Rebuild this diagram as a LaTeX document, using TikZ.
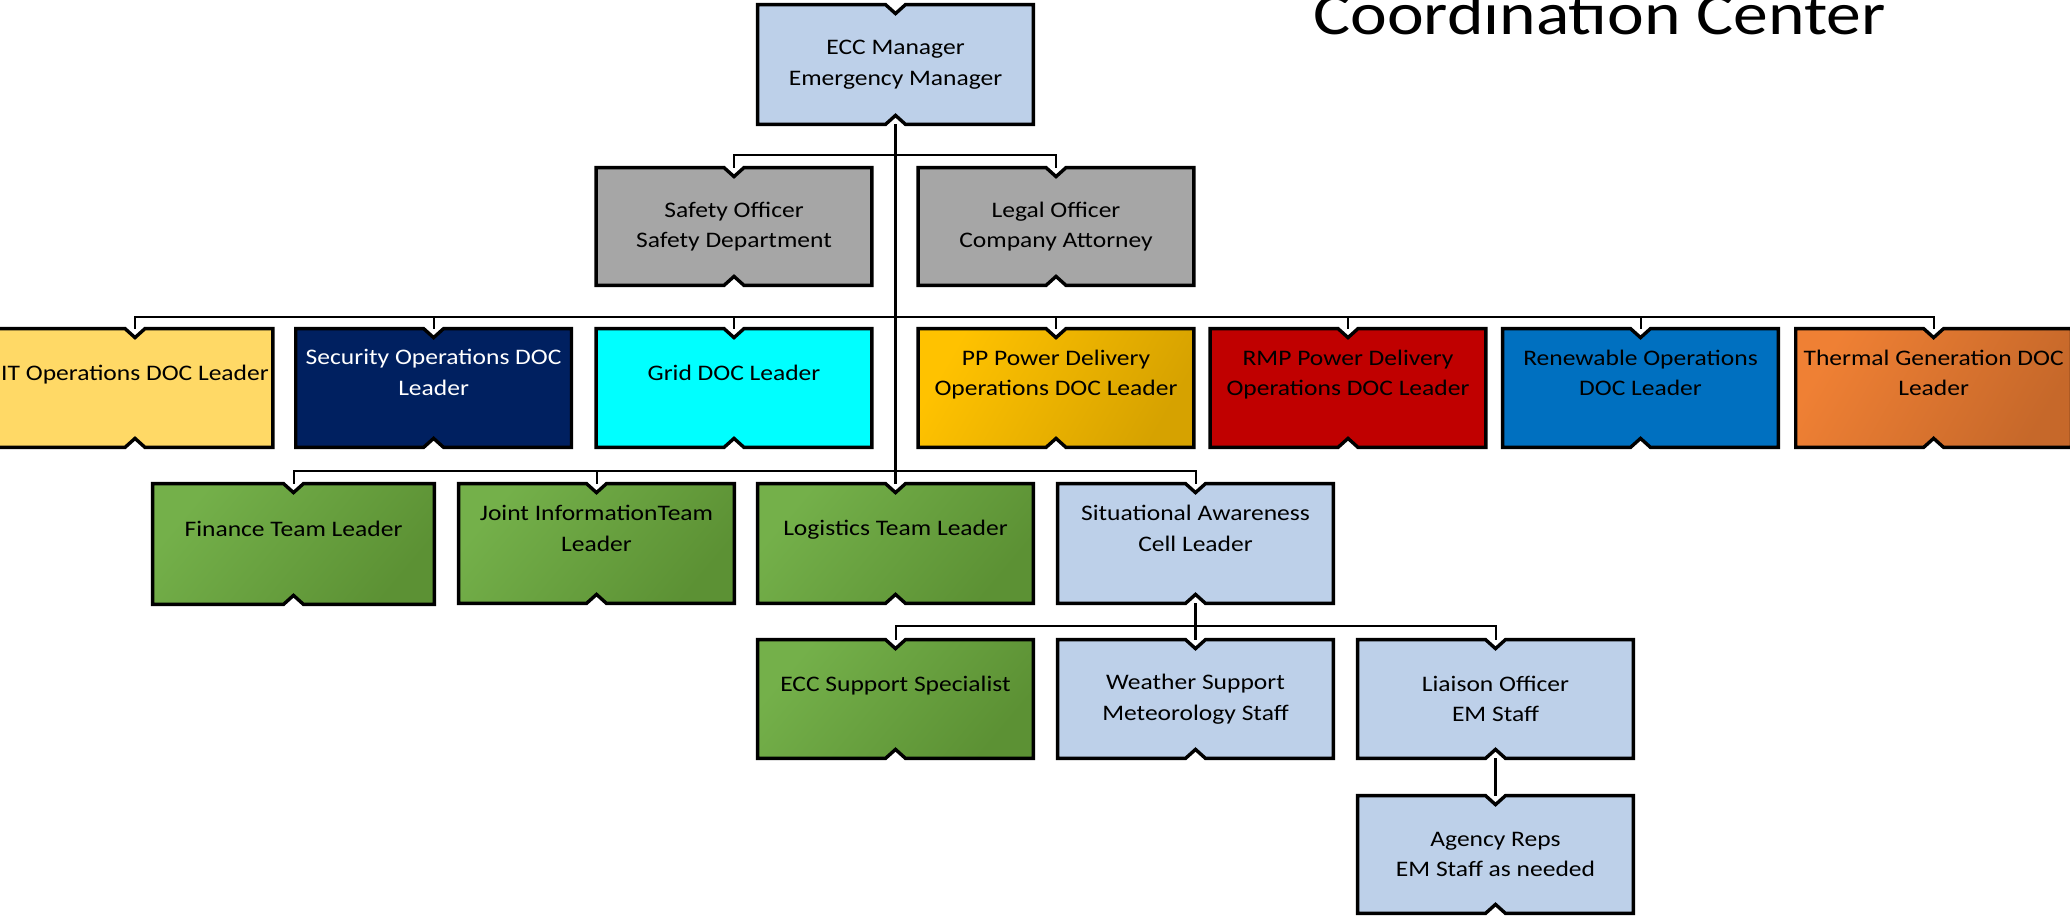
\documentclass[tikz,border=0pt]{standalone}
\usepackage{fontspec}
\usetikzlibrary{calc,backgrounds}
\newfontfamily\boxfont{Carlito}[FakeStretch=1.15]
\newfontfamily\titlefont{Carlito}[FakeStretch=1.16]
\definecolor{lblue}{RGB}{189,208,233}
\definecolor{greyb}{RGB}{166,166,166}
\definecolor{itY}{RGB}{255,217,102}
\definecolor{secN}{RGB}{0,32,96}
\definecolor{gridC}{RGB}{0,255,255}
\definecolor{ppL}{RGB}{255,194,0}
\definecolor{ppD}{RGB}{214,162,0}
\definecolor{rmpR}{RGB}{192,0,0}
\definecolor{renB}{RGB}{0,112,192}
\definecolor{thL}{RGB}{239,128,52}
\definecolor{thD}{RGB}{198,104,42}
\definecolor{grL}{RGB}{116,176,74}
\definecolor{grD}{RGB}{92,145,52}
\tikzset{
  box/.style={rectangle, inner sep=0pt, minimum width=137.5pt, minimum height=59pt,
    align=center, font=\boxfont\fontsize{11.1}{15.35}\selectfont, text=black},
  outl/.style={line width=1.7pt, draw=black, line join=miter},
  conn/.style={line width=1pt, draw=black},
  trunk/.style={line width=1.7pt, draw=black},
  fLB/.style={fill=lblue},
  fGrey/.style={fill=greyb},
  fIT/.style={fill=itY},
  fSec/.style={fill=secN},
  fGrid/.style={fill=gridC},
  fPP/.style={top color=ppL, bottom color=ppD, shading angle=60},
  fRMP/.style={fill=rmpR},
  fRen/.style={fill=renB},
  fTh/.style={top color=thL, bottom color=thD, shading angle=60},
  fGreen/.style={top color=grL, bottom color=grD, shading angle=50},
  titletext/.style={font=\titlefont\fontsize{30}{36}\selectfont, anchor=base west, inner sep=0pt},
}
\begin{document}
\begin{tikzpicture}[x=0.5pt, y=-0.5pt]
\useasboundingbox (0,0) rectangle (2070,915);

% title
\node[titletext] (title) at (1313,35) {Coordination Center};

% level 1
\node[box, minimum height=59.5pt] (ecc) at (895.5,64.5) {ECC Manager\\Emergency Manager};
% officers
\node[box, minimum height=58.5pt] (safety) at (734,226.5) {Safety Officer\\Safety Department};
\node[box, minimum height=58.5pt] (legal) at (1056,226.5) {Legal Officer\\Company Attorney};
% DOC row
\node[box] (it) at (135,388) {IT Operations DOC Leader\\\mbox{}};
\node[box, text=white] (sec) at (433.6,388) {Security Operations DOC\\Leader\\\mbox{}};
\node[box] (grid) at (734,388) {Grid DOC Leader\\\mbox{}};
\node[box] (pp) at (1056,388) {PP Power Delivery\\Operations DOC Leader\\\mbox{}};
\node[box] (rmp) at (1348,388) {RMP Power Delivery\\Operations DOC Leader\\\mbox{}};
\node[box] (ren) at (1640.5,388) {Renewable Operations\\DOC Leader\\\mbox{}};
\node[box] (therm) at (1933.6,388) {Thermal Generation DOC\\Leader\\\mbox{}};
% team row
\node[box, minimum width=140.5pt, minimum height=60pt] (fin) at (293.5,544) {Finance Team Leader\\\mbox{}};
\node[box, minimum height=59.5pt] (joint) at (596.5,543.5) {Joint InformationTeam\\Leader\\\mbox{}};
\node[box, minimum height=59.5pt] (logi) at (895.5,543.5) {Logistics Team Leader\\\mbox{}};
\node[box, minimum height=59.5pt] (sit) at (1195.5,543.5) {Situational Awareness\\Cell Leader\\\mbox{}};
% row 5
\node[box] (sup) at (895.5,699) {ECC Support Specialist\\\mbox{}};
\node[box] (wea) at (1195.5,699) {Weather Support\\Meteorology Staff};
\node[box] (lia) at (1495.5,699) {Liaison Officer\\EM Staff};
% row 6
\node[box, minimum height=58.5pt] (agency) at (1495.5,854.5) {Agency Reps\\EM Staff as needed};

% box outlines with notches
\begin{pgfonlayer}{background}
\fill[white] (0,0) rectangle (2070,915);
\foreach \n/\s in {ecc/fLB, safety/fGrey, legal/fGrey, it/fIT, sec/fSec, grid/fGrid,
    pp/fPP, rmp/fRMP, ren/fRen, therm/fTh, fin/fGreen, joint/fGreen, logi/fGreen,
    sit/fLB, sup/fGreen, wea/fLB, lia/fLB, agency/fLB}
{
  \path[outl,\s] (\n.north west) -- ($(\n.north)+(-10,0)$) -- ($(\n.north)+(0,9)$)
    -- ($(\n.north)+(10,0)$) -- (\n.north east) -- (\n.south east)
    -- ($(\n.south)+(10,0)$) -- ($(\n.south)+(0,-9)$) -- ($(\n.south)+(-10,0)$)
    -- (\n.south west) -- cycle;
}
\end{pgfonlayer}

% connectors
\draw[conn] (safety.north) -- ++(0,-13) -| (legal.north);
\draw[conn] (it.north) -- ++(0,-11.5) -| (therm.north);
\foreach \n in {sec,grid,pp,rmp,ren} \draw[conn] (\n.north) -- ++(0,-11.5);
\draw[conn] (fin.north) -- ++(0,-12.3) -| (sit.north);
\draw[conn] (joint.north) -- ++(0,-12.3);
\draw[trunk] (ecc.south) -- (logi.north);
\draw[trunk] (sit.south) -- (wea.north);
\draw[conn] (sup.north) -- ++(0,-13.3) -| (lia.north);
\draw[trunk] (lia.south) -- (agency.north);
\end{tikzpicture}
\end{document}
